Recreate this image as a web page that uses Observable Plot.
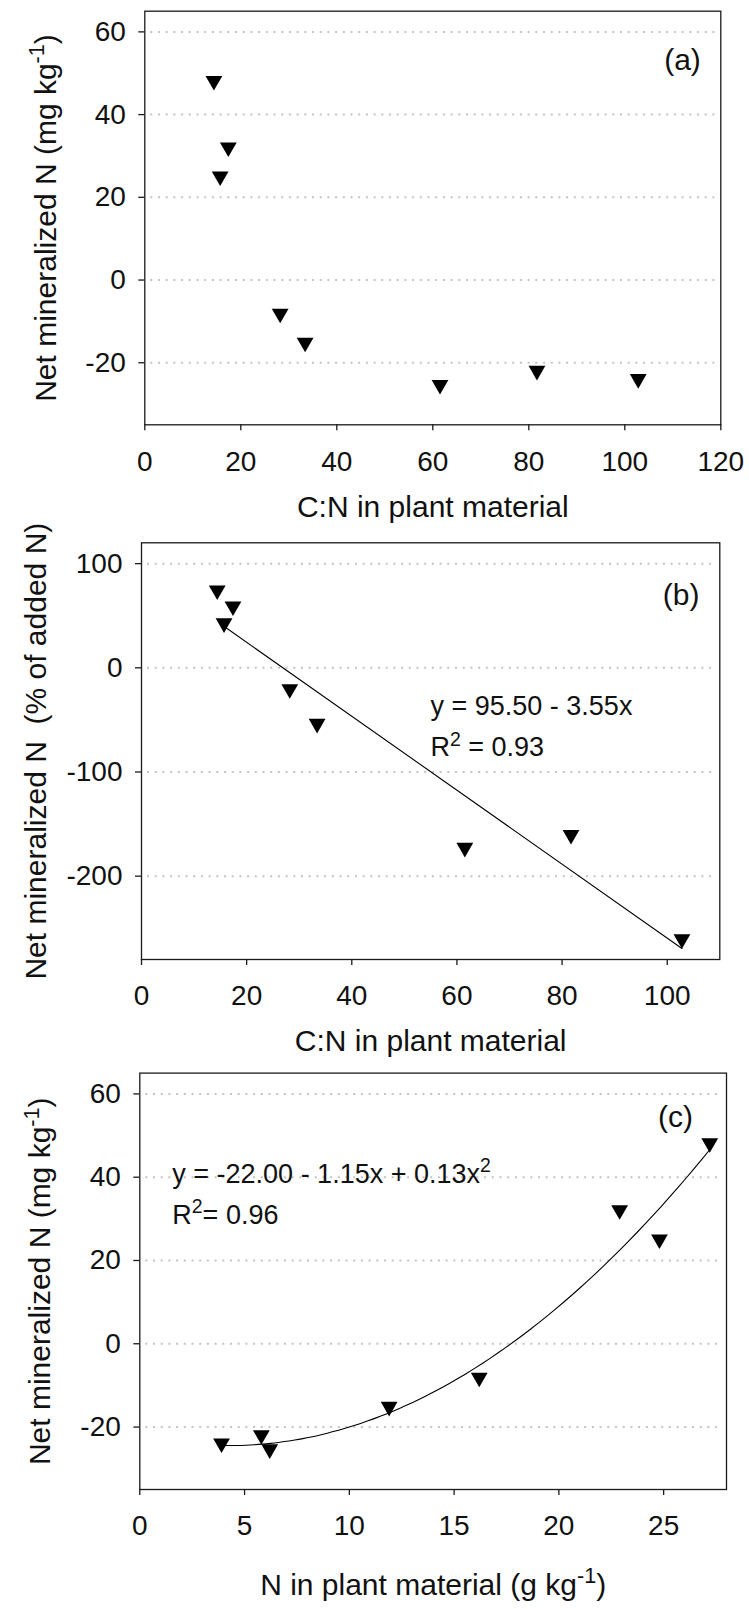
<!DOCTYPE html>
<html>
<head>
<meta charset="utf-8">
<script src="https://cdn.jsdelivr.net/npm/d3@7"></script>
<script src="https://cdn.jsdelivr.net/npm/@observablehq/plot@0.6"></script>
<style>
  html, body { margin: 0; padding: 0; background: #fff; }
  #chart { position: relative; width: 749px; height: 1609px; overflow: hidden; }
  #chart svg { display: block; }
</style>
</head>
<body>
<div id="chart"></div>
<script>
// ---- data ----
const cnRatio   = [14.4, 17.4, 15.7, 28.2, 33.4, 61.5, 81.7, 102.8];   // C:N in plant material
const nContent  = [27.2, 22.9, 24.8, 16.2, 11.9, 6.2, 5.8, 3.9];       // N in plant material (g/kg)
const netMinMg  = [47.6, 31.5, 24.5, -8.7, -15.7, -25.9, -22.5, -24.5]; // mg/kg
const netMinPct = [72, 56.6, 40.5, -22.8, -56, -175, -162.7, -262.7];  // % of added N

// fitted relations shown on the figure
const linCoef  = [95.50, -3.55];          // panel b
const linRange = [15.6, 102.8];
const quadCoef = [-22.00, -1.15, 0.135];  // panel c
const quadRange = [3.9, 27.2];

// ticks
const xTicksA = [0, 20, 40, 60, 80, 100, 120];
const xTicksB = [0, 20, 40, 60, 80, 100];
const xTicksC = [0, 5, 10, 15, 20, 25];
const yTicksMg = [-20, 0, 20, 40, 60];
const yTicksPct = [-200, -100, 0, 100];

const FONT = "'Liberation Sans', Arial, Helvetica, sans-serif";
const TICK_FS = 28, NOTE_FS = 27, TAG_FS = 30, TITLE_FS = 30;

const samples = cnRatio.map((c, i) => ({cn: c, n: nContent[i], mg: netMinMg[i], pct: netMinPct[i]}));

const triDown = {
  draw(ctx, size) {
    const r = Math.sqrt(size / Math.PI);
    const w = r * 1.05, h = w * Math.sqrt(3);
    ctx.moveTo(-w, -h / 2);
    ctx.lineTo(w, -h / 2);
    ctx.lineTo(0, h / 2);
    ctx.closePath();
  }
};

function panel(o) {
  return Plot.plot({
    width: 749,
    height: o.height,
    marginLeft: o.marginLeft,
    marginRight: o.marginRight,
    marginTop: o.marginTop,
    marginBottom: o.marginBottom,
    style: {fontFamily: FONT, fontSize: TICK_FS + "px", background: "white", color: "#111", overflow: "visible"},
    x: {domain: o.xDomain},
    y: {domain: o.yDomain},
    marks: [
      Plot.ruleY(o.yTicks, {stroke: "#c4c4c4", strokeWidth: 2, strokeDasharray: "2,5.7", insetLeft: 6, insetRight: 5}),
      Plot.frame({stroke: "#1a1a1a", strokeWidth: 1.3}),
      Plot.axisX({ticks: o.xTicks, tickSize: 6, tickPadding: 20, fontSize: TICK_FS, label: null, stroke: "#1a1a1a", strokeWidth: 1.3, tickFormat: d => String(d)}),
      Plot.axisY({ticks: o.yTicks, tickSize: 6, tickPadding: 13, fontSize: TICK_FS, label: null, stroke: "#1a1a1a", strokeWidth: 1.3, tickFormat: d => String(d)}),
      ...o.extra,
      Plot.dot(samples, {x: o.xKey, y: o.yKey, symbol: triDown, r: 8, fill: "black", stroke: "none"}),
      Plot.text([o.xTitle], {frameAnchor: "bottom", textAnchor: "middle", dy: o.xTitleDy, fontSize: TITLE_FS, text: d => d}),
      Plot.text([o.yTitle], {frameAnchor: "left", textAnchor: "middle", dx: o.yTitleDx, rotate: -90, fontSize: TITLE_FS, text: d => d}),
      Plot.text([o.tag], {frameAnchor: "top-right", textAnchor: "middle", dx: o.tagDx, dy: o.tagDy, fontSize: TAG_FS, text: d => d}),
      ...(o.notes || []).map(n => Plot.text([n.t], {frameAnchor: "top-left", textAnchor: "start", dx: n.dx, dy: n.dy, fontSize: NOTE_FS, text: d => d}))
    ]
  });
}

function supify(svg) {
  d3.select(svg).selectAll("text").each(function () {
    const s = this.textContent;
    if (!s.includes("^{")) return;
    const parts = s.split(/(\^\{[^}]*\})/).filter(p => p.length);
    this.textContent = "";
    let raised = false;
    for (const p of parts) {
      const ts = document.createElementNS("http://www.w3.org/2000/svg", "tspan");
      const m = p.match(/^\^\{([^}]*)\}$/);
      if (m) {
        ts.textContent = m[1];
        ts.setAttribute("font-size", "0.72em");
        ts.setAttribute("dy", "-0.55em");
        raised = true;
      } else {
        ts.textContent = p;
        if (raised) { ts.setAttribute("dy", "0.396em"); raised = false; }
      }
      this.appendChild(ts);
    }
  });
}

const lineB = linRange.map(x => ({x, y: linCoef[0] + linCoef[1] * x}));
const curveC = d3.range(0, 61).map(i => {
  const x = quadRange[0] + (quadRange[1] - quadRange[0]) * i / 60;
  return {x, y: quadCoef[0] + quadCoef[1] * x + quadCoef[2] * x * x};
});

const specs = [
  {
    top: 0, height: 530, marginLeft: 144.3, marginRight: 28.7, marginTop: 10.7, marginBottom: 105.7,
    xDomain: [0, 120], yDomain: [-35, 65], xTicks: xTicksA, yTicks: yTicksMg,
    xKey: "cn", yKey: "mg",
    xTitle: "C:N in plant material", xTitleDy: 92.4,
    yTitle: "Net mineralized N (mg kg^{-1})", yTitleDx: -98.8,
    tag: "(a)", tagDx: -38.3, tagDy: 37.3,
    extra: []
  },
  {
    top: 530, height: 532, marginLeft: 141, marginRight: 29.7, marginTop: 12.3, marginBottom: 103,
    xDomain: [0, 110], yDomain: [-280, 120], xTicks: xTicksB, yTicks: yTicksPct,
    xKey: "cn", yKey: "pct",
    xTitle: "C:N in plant material", xTitleDy: 91.5,
    yTitle: "Net mineralized N  (% of added N)", yTitleDx: -105,
    tag: "(b)", tagDx: -38.6, tagDy: 40.7,
    notes: [{t: "y = 95.50 - 3.55x", dx: 289, dy: 152.7}, {t: "R^{2} = 0.93", dx: 289, dy: 194.4}],
    extra: [Plot.line(lineB, {x: "x", y: "y", stroke: "black", strokeWidth: 1.1})]
  },
  {
    top: 1062, height: 547, marginLeft: 139.3, marginRight: 23, marginTop: 10.6, marginBottom: 120,
    xDomain: [0, 28], yDomain: [-35, 65], xTicks: xTicksC, yTicks: yTicksMg,
    xKey: "n", yKey: "mg",
    xTitle: "N in plant material (g kg^{-1})", xTitleDy: 105,
    yTitle: "Net mineralized N (mg kg^{-1})", yTitleDx: -99,
    tag: "(c)", tagDx: -51, tagDy: 33,
    notes: [{t: "y = -22.00 - 1.15x + 0.13x^{2}", dx: 32.5, dy: 90.4}, {t: "R^{2}= 0.96", dx: 32.5, dy: 131.4}],
    extra: [Plot.line(curveC, {x: "x", y: "y", stroke: "black", strokeWidth: 1.1, curve: "natural"})]
  }
];

const root = document.getElementById("chart");
for (const s of specs) {
  const svg = panel(s);
  supify(svg);
  svg.style.position = "absolute";
  svg.style.left = "0px";
  svg.style.top = s.top + "px";
  root.appendChild(svg);
}
</script>
</body>
</html>
